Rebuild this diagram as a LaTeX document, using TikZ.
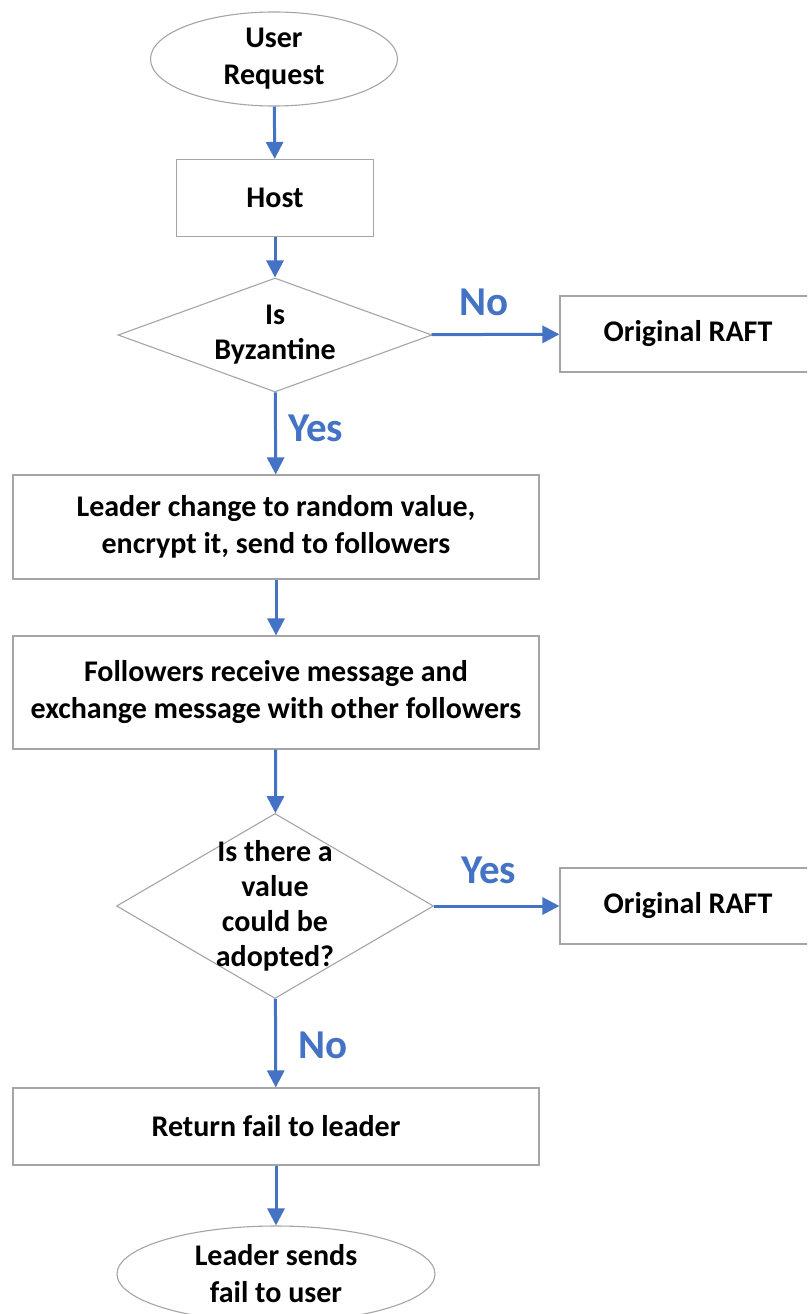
\documentclass[tikz,border=0pt]{standalone}
\usepackage{fontspec}
\setmainfont{Carlito}
\usetikzlibrary{positioning, arrows.meta, shapes.geometric}
\definecolor{flowblue}{HTML}{4472C4}
\definecolor{linegray}{HTML}{A5A5A5}

\begin{document}
\begin{tikzpicture}[
    x=1pt, y=-1pt,
    >={Triangle[length=17pt, width=17pt]},
    box/.style={draw=linegray, line width=1.1pt, rectangle, align=center, fill=white, font=\fontsize{30}{37}\selectfont\bfseries, inner sep=0pt},
    terminal/.style={draw=linegray, line width=1.1pt, ellipse, align=center, fill=white, font=\fontsize{30}{37}\selectfont\bfseries, inner sep=0pt},
    decision/.style={draw=linegray, line width=1.1pt, diamond, fill=white, inner sep=0pt},
    txt/.style={align=center, font=\fontsize{30}{35}\selectfont\bfseries, inner sep=0pt},
    flow/.style={->, draw=flowblue, fill=flowblue, line width=3pt},
    edge_label/.style={text=flowblue, font=\fontsize{41}{41}\selectfont\bfseries, inner sep=0pt}
]

% picture frame (right boxes and last ellipse run off the page)
\clip (0,0) rectangle (807,1314);

% ================= Nodes =================

% Top: request and host
\node[terminal, minimum width=247pt, minimum height=94pt] (request) at (274, 59) {User\\Request};
\node[box, minimum width=197pt, minimum height=77pt] (host) at (275, 198) {Host};

% First decision
\node[decision, minimum width=314pt, minimum height=114pt] (byz) at (275, 335) {};
\node[txt] (byz_txt) at (byz) {Is\\Byzantine};
\node[box, minimum width=256pt, minimum height=76pt] (raft_a) at (688, 334) {Original RAFT};

% Middle: leader and followers
\node[box, minimum width=526pt, minimum height=104pt] (leader) at (276, 527) {Leader change to random value,\\encrypt it, send to followers};
\node[box, minimum width=526pt, minimum height=113pt] (followers) at (276, 692.5) {Followers receive message and\\exchange message with other followers};

% Second decision
\node[decision, minimum width=317pt, minimum height=185pt] (adopt) at (275, 906) {};
\node[txt] (adopt_txt) at (adopt) {Is there a\\value\\could be\\adopted?};
\node[box, minimum width=256pt, minimum height=76pt] (raft_b) at (688, 906) {Original RAFT};

% Bottom: fail path
\node[box, minimum width=526pt, minimum height=77pt] (fail) at (276, 1126.5) {Return fail to leader};
\node[terminal, minimum width=318pt, minimum height=96pt] (notify) at (276, 1274) {Leader sends\\fail to user};

% ================= Edges =================

\draw[flow] (request) -- (host);
\draw[flow] (host) -- (byz);

% Byzantine check
\draw[flow] (byz) -- (raft_a) node[midway, above=17pt, xshift=-11pt, edge_label] {No};
\draw[flow] (byz) -- (leader) node[midway, right=11pt, yshift=5pt, edge_label] {Yes};

\draw[flow] (leader) -- (followers);
\draw[flow] (followers) -- (adopt);

% Adoption check
\draw[flow] (adopt) -- (raft_b) node[midway, above=21pt, xshift=-8pt, edge_label] {Yes};
\draw[flow] (adopt) -- (fail) node[midway, right=21pt, yshift=-2pt, edge_label] {No};

\draw[flow] (fail) -- (notify);

\end{tikzpicture}
\end{document}
